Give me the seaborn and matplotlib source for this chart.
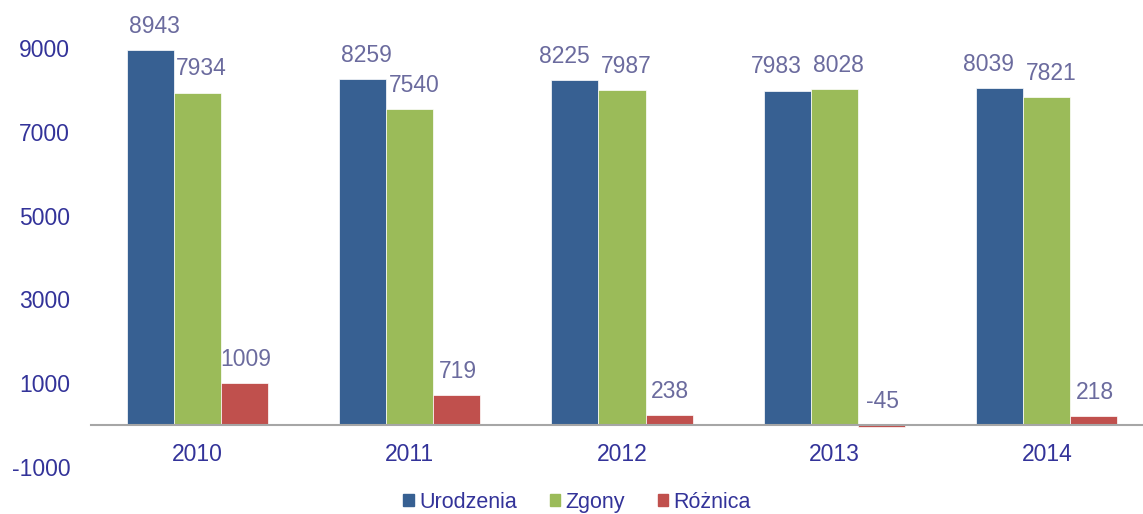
import matplotlib
matplotlib.use("Agg")
import matplotlib.pyplot as plt
import seaborn as sns
import pandas as pd

# Data
years = ["2010", "2011", "2012", "2013", "2014"]
series = ["Urodzenia", "Zgony", "Różnica"]
urodzenia = [8943, 8259, 8225, 7983, 8039]
zgony = [7934, 7540, 7987, 8028, 7821]
roznica = [1009, 719, 238, -45, 218]
colors = ["#376092", "#9BBB59", "#C0504D"]

df = pd.DataFrame({
    "rok": years * 3,
    "seria": [s for s in series for _ in years],
    "wartosc": urodzenia + zgony + roznica,
})

sns.set_style("white")
plt.rcParams["font.family"] = ["Liberation Sans", "DejaVu Sans"]
plt.rcParams["axes.unicode_minus"] = False

fig = plt.figure(figsize=(11.43, 5.14), dpi=100)
# category width ~212 px, so the axes run a little past the right edge
ax = fig.add_axes([91 / 1143, (514 - 467) / 514, 1062 / 1143, (467 - 6) / 514])

sns.barplot(data=df, x="rok", y="wartosc", hue="seria", order=years,
            hue_order=series, palette=colors, width=0.664, saturation=1,
            edgecolor="white", linewidth=0.5, ax=ax, legend=True)

ax.set_ylim(-1000, 10000)
ax.set_xlim(-0.5, len(years) - 0.5)
ax.set_yticks([-1000, 1000, 3000, 5000, 7000, 9000])
ax.set_xlabel("")
ax.set_ylabel("")

for s in ["top", "right", "left"]:
    ax.spines[s].set_visible(False)
ax.spines["bottom"].set_position(("data", 0))
ax.spines["bottom"].set_color("#A6A6A6")
ax.spines["bottom"].set_linewidth(1.5)

ax.tick_params(axis="y", length=0, pad=15, labelsize=16.5, labelcolor="#333399")
ax.tick_params(axis="x", length=0, pad=13, labelsize=16.5, labelcolor="#333399")

# Data labels; nudge the first label left when two neighbours sit at similar height
blue, green, red = ax.containers
for i in range(len(years)):
    close = abs(urodzenia[i] - zgony[i]) < 500
    for cont, dx in [(blue, -8 if close else 3), (green, 3), (red, 1)]:
        bar = cont[i]
        h = bar.get_height()
        xc = bar.get_x() + bar.get_width() / 2
        ax.annotate(f"{h:.0f}", (xc, max(h, 0)), xytext=(dx, 17),
                    textcoords="offset points", ha="center", va="center",
                    fontsize=16.5, color="#6B6B9E")

ax.get_legend().remove()
handles = [plt.Rectangle((0, 0), 1, 1, color=c) for c in colors]
leg = fig.legend(handles, series, loc="center", bbox_to_anchor=(0.505, 0.023),
                 ncol=3, frameon=False, fontsize=15.5, handlelength=0.5,
                 handleheight=0.5, handletextpad=0.25, columnspacing=1.5)
for t in leg.get_texts():
    t.set_color("#333399")

fig.savefig("out.png", dpi=100)
